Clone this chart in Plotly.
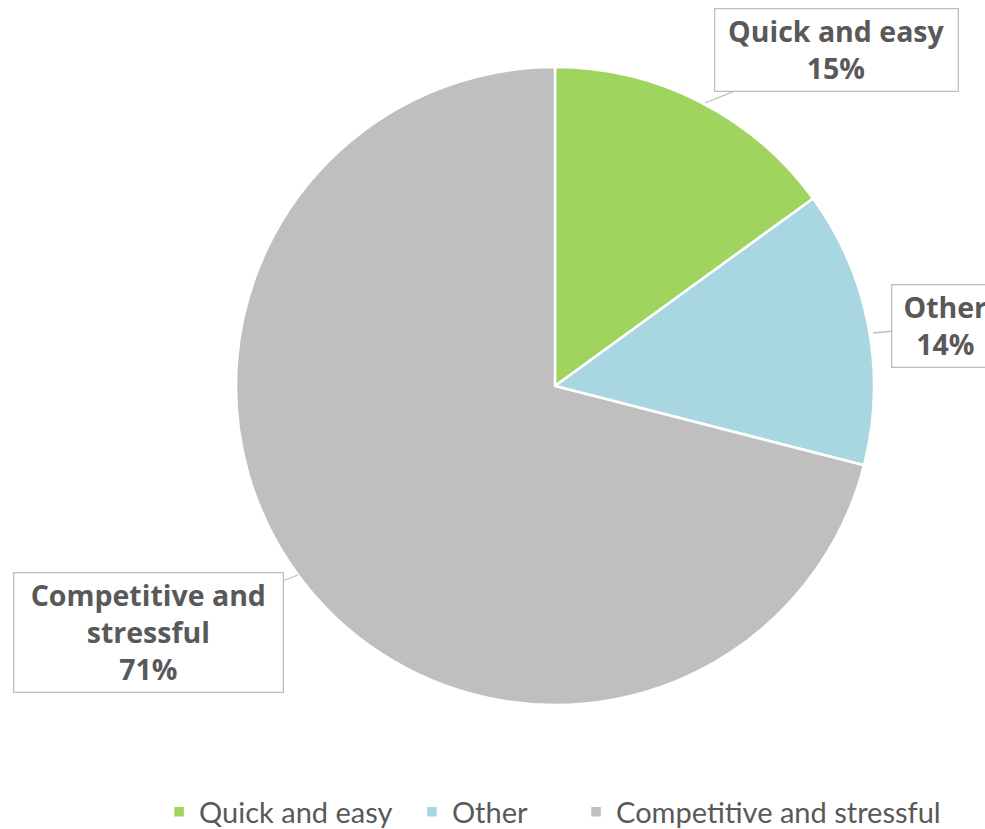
import plotly.graph_objects as go

categories = ["Quick and easy", "Other", "Competitive and stressful"]
values = [15, 14, 71]
colors = ["#9FD55F", "#A9D7E1", "#BFBFBF"]
label_text = ["Quick and easy", "Other", "Competitive and<br>stressful"]

W, H = 985, 829
TXT = "#595959"
LABEL_FONT = "Open Sans"
LEGEND_FONT = "Lato"

# legend entries get a little extra trailing room (visual spacing only)
legend_pad = ["\u2002", "\u2002\u2002\u2002", ""]
legend_labels = [c + p for c, p in zip(categories, legend_pad)]

fig = go.Figure()
fig.add_trace(go.Pie(
    labels=legend_labels,
    values=values,
    marker=dict(colors=colors, line=dict(color="white", width=2.5)),
    sort=False,
    direction="clockwise",
    rotation=0,
    textinfo="none",
    hoverinfo="label+percent",
    domain=dict(x=[236 / W, 874 / W], y=[1 - 705 / H, 1 - 67 / H]),
))

# callout label placement (tip point on slice edge, box offset in px, box width)
callouts = [
    dict(tip=(705, 103), off=(131, -53), w=236),
    dict(tip=(873, 333), off=(72, -7), w=100),
    dict(tip=(298, 575), off=(-150, 57), w=262),
]
total = sum(values)
for lab, v, c in zip(label_text, values, callouts):
    pct = round(100 * v / total)
    fig.add_annotation(
        x=c["tip"][0] / W, y=1 - c["tip"][1] / H, xref="paper", yref="paper",
        ax=c["off"][0], ay=c["off"][1],
        text=f"<b>{lab}<br>{pct}%</b>",
        width=c["w"],
        showarrow=True, arrowhead=0, arrowwidth=1.3, arrowcolor="#BFBFBF",
        bordercolor="#BFBFBF", borderwidth=1.3, borderpad=3, bgcolor="white",
        font=dict(family=LABEL_FONT, size=28.5, color=TXT),
        align="center",
    )

fig.update_layout(
    width=W, height=H,
    margin=dict(l=0, r=0, t=0, b=0, autoexpand=False),
    paper_bgcolor="white",
    plot_bgcolor="white",
    showlegend=True,
    legend=dict(orientation="h", x=0.561, xanchor="center", y=1 - 812 / H, yanchor="middle",
                font=dict(family=LEGEND_FONT, size=29, color=TXT),
                traceorder="normal"),
)

fig.write_html("out.html", config={"displayModeBar": False},
               post_script="document.body.style.margin='0';document.body.style.overflow='hidden';")
